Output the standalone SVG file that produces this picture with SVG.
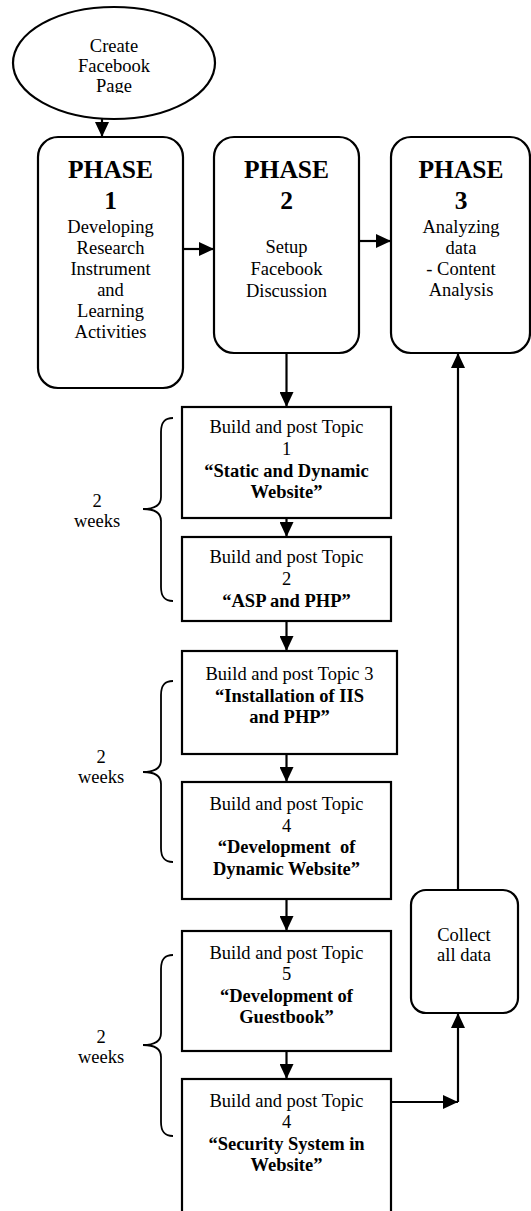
<svg xmlns="http://www.w3.org/2000/svg" width="531" height="1211" viewBox="0 0 531 1211">
<style>
.box{fill:#fff;stroke:#000;stroke-width:2.2}
.ln{fill:none;stroke:#000;stroke-width:2.2}
.br{fill:none;stroke:#000;stroke-width:1.8}
text{font-family:"Liberation Serif","Times New Roman",serif;font-size:18.5px;fill:#000;text-anchor:middle}
.b{font-weight:bold}
.ph{font-weight:bold;font-size:25.5px}
</style>
<defs>
<marker id="ah" markerUnits="userSpaceOnUse" markerWidth="15" markerHeight="14" refX="15" refY="7" orient="auto">
<path d="M0,0 L15,7 L0,14 z" fill="#000"/>
</marker>
<clipPath id="ec"><rect x="0" y="0" width="531" height="93"/></clipPath>
</defs>
<g id="connectors">
<line class="ln" x1="102" y1="118" x2="102" y2="137" marker-end="url(#ah)"/>
<line class="ln" x1="183" y1="249" x2="214" y2="249" marker-end="url(#ah)"/>
<line class="ln" x1="359" y1="241" x2="391" y2="241" marker-end="url(#ah)"/>
<line class="ln" x1="286.5" y1="353" x2="286.5" y2="407" marker-end="url(#ah)"/>
<line class="ln" x1="286.5" y1="518" x2="286.5" y2="537" marker-end="url(#ah)"/>
<line class="ln" x1="286.5" y1="621" x2="286.5" y2="651" marker-end="url(#ah)"/>
<line class="ln" x1="286.5" y1="754" x2="286.5" y2="782" marker-end="url(#ah)"/>
<line class="ln" x1="286.5" y1="899" x2="286.5" y2="931" marker-end="url(#ah)"/>
<line class="ln" x1="286.5" y1="1051" x2="286.5" y2="1079" marker-end="url(#ah)"/>
<line class="ln" x1="391" y1="1102" x2="458" y2="1102" marker-end="url(#ah)"/>
<line class="ln" x1="458" y1="1102" x2="458" y2="1013" marker-end="url(#ah)"/>
<line class="ln" x1="458" y1="890" x2="458" y2="353" marker-end="url(#ah)"/>
</g>
<g id="start">
<ellipse class="box" cx="114" cy="63" rx="101" ry="56"/>
<g clip-path="url(#ec)">
<text x="114" y="52">Create</text>
<text x="114" y="72">Facebook</text>
<text x="114" y="92">Page</text>
</g>
</g>
<g id="phase1">
<rect class="box" x="38" y="137" width="145" height="251" rx="20"/>
<text class="ph" x="110.5" y="178">PHASE</text>
<text class="ph" x="110.5" y="209">1</text>
<text x="110.5" y="233">Developing</text>
<text x="110.5" y="254">Research</text>
<text x="110.5" y="275">Instrument</text>
<text x="110.5" y="296">and</text>
<text x="110.5" y="317">Learning</text>
<text x="110.5" y="338">Activities</text>
</g>
<g id="phase2">
<rect class="box" x="214" y="137" width="145" height="216" rx="20"/>
<text class="ph" x="286.5" y="178">PHASE</text>
<text class="ph" x="286.5" y="209">2</text>
<text x="286.5" y="253">Setup</text>
<text x="286.5" y="275">Facebook</text>
<text x="286.5" y="297">Discussion</text>
</g>
<g id="phase3">
<rect class="box" x="391" y="137" width="139" height="216" rx="20"/>
<text class="ph" x="461" y="178">PHASE</text>
<text class="ph" x="461" y="209">3</text>
<text x="461" y="233">Analyzing</text>
<text x="461" y="254">data</text>
<text x="461" y="275">- Content</text>
<text x="461" y="296">Analysis</text>
</g>
<g id="topic1">
<rect class="box" x="182" y="407" width="209" height="111"/>
<text x="286.5" y="433">Build and post Topic</text>
<text x="286.5" y="455">1</text>
<text class="b" x="286.5" y="477">“Static and Dynamic</text>
<text class="b" x="286.5" y="498">Website”</text>
</g>
<g id="topic2">
<rect class="box" x="182" y="537" width="209" height="84"/>
<text x="286.5" y="563">Build and post Topic</text>
<text x="286.5" y="585">2</text>
<text class="b" x="286.5" y="607">“ASP and PHP”</text>
</g>
<g id="topic3">
<rect class="box" x="182" y="651" width="215" height="103"/>
<text x="289.5" y="680">Build and post Topic 3</text>
<text class="b" x="289.5" y="702">“Installation of IIS</text>
<text class="b" x="289.5" y="723">and PHP”</text>
</g>
<g id="topic4">
<rect class="box" x="182" y="782" width="209" height="117"/>
<text x="286.5" y="810">Build and post Topic</text>
<text x="286.5" y="832">4</text>
<text class="b" x="286.5" y="853" xml:space="preserve">“Development  of</text>
<text class="b" x="286.5" y="875">Dynamic Website”</text>
</g>
<g id="topic5">
<rect class="box" x="182" y="931" width="209" height="120"/>
<text x="286.5" y="959">Build and post Topic</text>
<text x="286.5" y="980">5</text>
<text class="b" x="286.5" y="1002">“Development of</text>
<text class="b" x="286.5" y="1023">Guestbook”</text>
</g>
<g id="topic6">
<rect class="box" x="182" y="1079" width="209" height="150"/>
<text x="286.5" y="1107">Build and post Topic</text>
<text x="286.5" y="1128">4</text>
<text class="b" x="286.5" y="1150">“Security System in</text>
<text class="b" x="286.5" y="1171">Website”</text>
</g>
<g id="collect">
<rect class="box" x="411" y="890" width="107" height="123" rx="15"/>
<text x="464" y="941">Collect</text>
<text x="464" y="961">all data</text>
</g>
<g id="brace1">
<path class="br" d="M173,418 C164,418 161,423 161,432 L161,497 C161,505 155,509 143,509 C155,509 161,513 161,521 L161,587 C161,596 164,601 173,601"/>
<text x="97" y="507">2</text>
<text x="97" y="527">weeks</text>
</g>
<g id="brace2">
<path class="br" d="M173,681 C164,681 161,686 161,695 L161,760 C161,768 155,772 143,772 C155,772 161,776 161,784 L161,848 C161,857 164,862 173,862"/>
<text x="101" y="763">2</text>
<text x="101" y="783">weeks</text>
</g>
<g id="brace3">
<path class="br" d="M173,955 C164,955 161,960 161,969 L161,1033 C161,1041 155,1045 143,1045 C155,1045 161,1049 161,1057 L161,1122 C161,1131 164,1136 173,1136"/>
<text x="101" y="1043">2</text>
<text x="101" y="1063">weeks</text>
</g>
</svg>
